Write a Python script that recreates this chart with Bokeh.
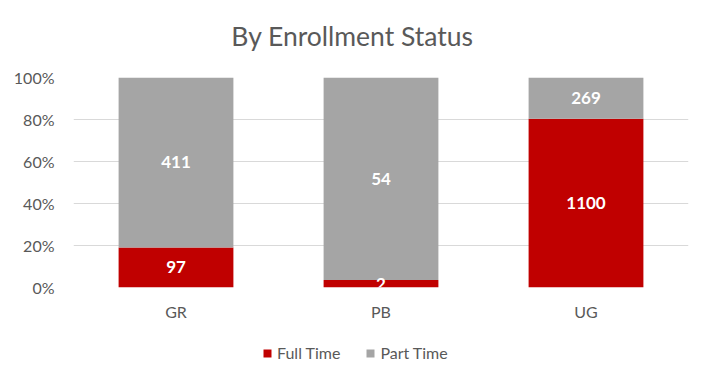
import numpy as np
from bokeh.plotting import figure
from bokeh.layouts import column
from bokeh.models import ColumnDataSource, Legend, LegendItem, NumeralTickFormatter, FixedTicker, LabelSet, Label, Range1d
from bokeh.core.properties import value
from bokeh.embed import file_html
from bokeh.resources import INLINE

title_text = "By Enrollment Status"
categories = ["GR", "PB", "UG"]
full_time = [97, 2, 1100]
part_time = [411, 54, 269]
series_names = ["Full Time", "Part Time"]
y_ticks = [0, 0.2, 0.4, 0.6, 0.8, 1.0]

totals = [f + p for f, p in zip(full_time, part_time)]
ft_pct = [f / t for f, t in zip(full_time, totals)]
pt_pct = [p / t for p, t in zip(part_time, totals)]

src = ColumnDataSource(dict(
    cat=categories,
    ft_top=ft_pct, pt_top=[1.0] * len(categories),
    ft_mid=[v / 2 for v in ft_pct],
    pt_mid=[f + p / 2 for f, p in zip(ft_pct, pt_pct)],
    ft_lbl=[str(v) for v in full_time],
    pt_lbl=[str(v) for v in part_time],
))

FONT = "Lato"
TXT = "#595959"
RED = "#C00000"
GRAY = "#A5A5A5"
W = 697

def blank(h):
    f = figure(width=W, height=h, output_backend="svg", toolbar_location=None,
               x_range=Range1d(0, 1), y_range=Range1d(0, 1))
    f.min_border = 0
    f.outline_line_color = None
    f.axis.visible = False
    f.grid.visible = False
    return f

# title strip (frame aligned with main chart frame, which starts at x=73)
tf = blank(60)
tf.add_layout(Label(x=279, y=25, x_units="screen", y_units="screen", text=title_text,
                    text_align="center", text_baseline="middle",
                    text_font=FONT, text_font_size="26.5px", text_color=TXT))

# main chart
p = figure(x_range=categories, y_range=Range1d(0, 1), width=W, height=270,
           output_backend="svg", toolbar_location=None)
p.min_border_left = 73
p.min_border_right = 9
p.min_border_top = 17
p.min_border_bottom = 43
p.outline_line_color = None

p.vbar(x="cat", bottom=0, top="ft_top", width=0.56, color=RED, source=src, line_color=None)
p.vbar(x="cat", bottom="ft_top", top="pt_top", width=0.56, color=GRAY, source=src, line_color=None)

for ycol, tcol in (("ft_mid", "ft_lbl"), ("pt_mid", "pt_lbl")):
    p.add_layout(LabelSet(x="cat", y=ycol, text=tcol, source=src,
                          text_align="center", text_baseline="middle",
                          text_color="white", text_font=value(FONT),
                          text_font_style="bold", text_font_size="17px"))

p.yaxis.ticker = FixedTicker(ticks=y_ticks)
p.yaxis.formatter = NumeralTickFormatter(format="0%")
for ax in (p.xaxis, p.yaxis):
    ax.axis_line_color = None
    ax.major_tick_line_color = None
    ax.minor_tick_line_color = None
    ax.major_label_text_font = FONT
    ax.major_label_text_font_size = "16px"
    ax.major_label_text_color = TXT
p.yaxis.major_label_standoff = 13
p.xaxis.major_label_standoff = 8

p.xgrid.grid_line_color = None
p.ygrid.grid_line_color = "#D9D9D9"
p.ygrid.grid_line_width = 1
p.ygrid.ticker = FixedTicker(ticks=y_ticks)

# legend strip
lg = blank(46)
dummy = ColumnDataSource(dict(x=np.array([np.nan]), top=np.array([np.nan])))
g1 = lg.vbar(x="x", top="top", width=0.1, fill_color=RED, line_color=None, source=dummy)
g2 = lg.vbar(x="x", top="top", width=0.1, fill_color=GRAY, line_color=None, source=dummy)
legend = Legend(items=[LegendItem(label=series_names[0], renderers=[g1]),
                       LegendItem(label=series_names[1], renderers=[g2])],
                orientation="horizontal", location=(189, 14),
                border_line_color=None, background_fill_alpha=0,
                label_text_font=FONT, label_text_font_size="16px",
                label_text_color=TXT, glyph_width=10, glyph_height=10,
                spacing=25, label_standoff=5, margin=0, padding=0)
lg.add_layout(legend, "center")

layout = column(tf, p, lg, spacing=0)
open("out.html", "w").write(file_html(layout, INLINE))
